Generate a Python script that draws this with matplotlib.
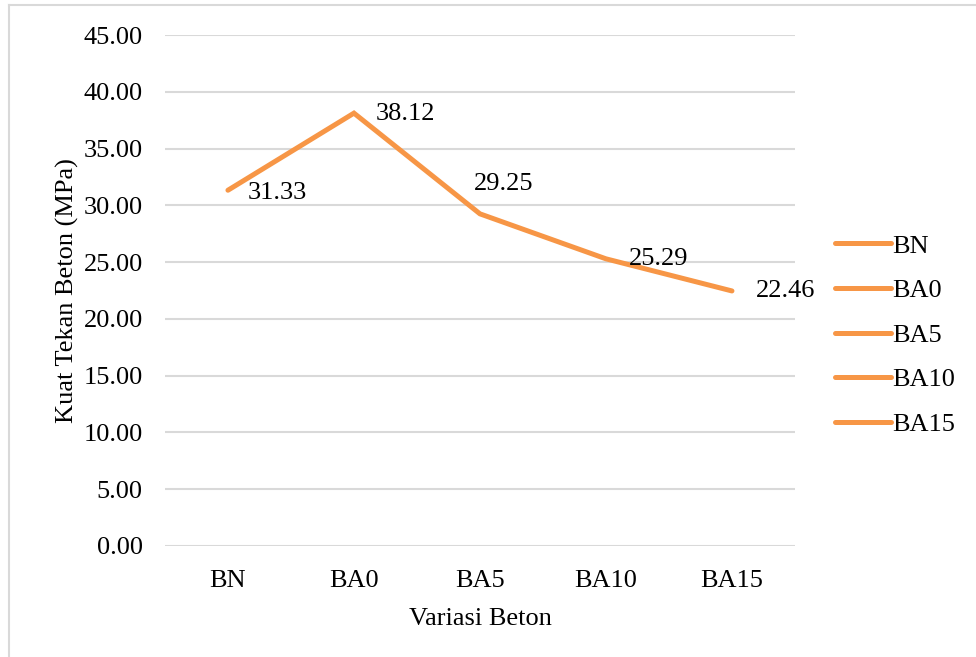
import matplotlib.pyplot as plt
from matplotlib.lines import Line2D

# chart data
categories = ['BN', 'BA0', 'BA5', 'BA10', 'BA15']
kuat_tekan = [31.33, 38.12, 29.25, 25.29, 22.46]
yticks = [0, 5, 10, 15, 20, 25, 30, 35, 40, 45]

# nudges for the data labels (pixels)
label_offsets = [(20, -3), (22, -1), (-6, 30), (23, 0), (24, 0)]

orange = '#F79646'
grid_gray = '#D9D9D9'
fs = 19

plt.rcParams['font.family'] = ['Liberation Serif', 'DejaVu Serif']

fig = plt.figure(figsize=(9.76, 6.57), dpi=100)
ax = fig.add_axes([0.169, 0.169, 0.6455, 0.7777])

x = list(range(len(categories)))
ax.plot(x, kuat_tekan, color=orange, linewidth=3.6, solid_capstyle='round',
        solid_joinstyle='miter')

for xi, val, off in zip(x, kuat_tekan, label_offsets):
    ax.annotate(f'{val:.2f}', (xi, val), xytext=off, textcoords='offset pixels',
                ha='left', va='center', fontsize=fs, color='black')

ax.set_xlim(-0.5, len(categories) - 0.5)
ax.set_ylim(0, 45)
ax.set_xticks(x)
ax.set_xticklabels(categories, fontsize=fs)
ax.set_yticks(yticks)
ax.set_yticklabels([f'{v:.2f}' for v in yticks], fontsize=fs)
ax.tick_params(length=0, pad=16)
ax.tick_params(axis='x', pad=17)

ax.grid(axis='y', color=grid_gray, linewidth=1.5)
ax.set_axisbelow(True)
for s in ax.spines.values():
    s.set_visible(False)

ax.set_xlabel('Variasi Beton', fontsize=fs, labelpad=12)
ax.set_ylabel('Kuat Tekan Beton (MPa)', fontsize=fs, labelpad=3)

# legend: Excel shows one entry per category, all in the series colour
handles = [Line2D([0], [0], color=orange, linewidth=3.6, solid_capstyle='round')
           for _ in categories]
fig.legend(handles, categories, loc='center left', bbox_to_anchor=(0.845, 0.49),
           frameon=False, fontsize=fs, handlelength=2.1, handletextpad=0.05,
           labelspacing=0.8, borderaxespad=0)

# chart border (left and top edges visible)
fig.add_artist(Line2D([0.0097, 0.0097], [0, 0.992], transform=fig.transFigure,
                      color=grid_gray, linewidth=1.5))
fig.add_artist(Line2D([0.0097, 1], [0.992, 0.992], transform=fig.transFigure,
                      color=grid_gray, linewidth=1.5))

fig.savefig('out.png', dpi=100)
